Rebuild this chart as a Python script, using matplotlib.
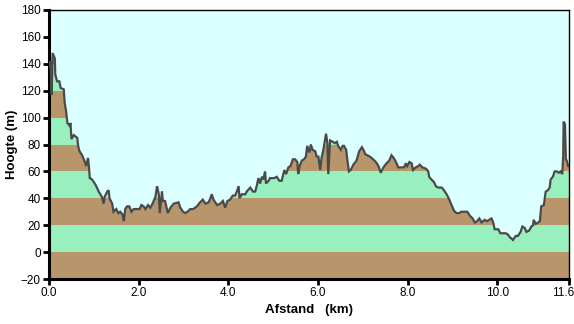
import matplotlib.pyplot as plt
import matplotlib.transforms as mtransforms
import numpy as np

#route profile: distance (km) and height (m)
afstand = [0.00, 0.03, 0.06, 0.08, 0.13, 0.14, 0.18, 0.23, 0.26, 0.33, 0.35, 0.38, 0.41, 0.46, 0.48,
           0.50, 0.55, 0.63, 0.65, 0.68, 0.74, 0.80, 0.83, 0.87, 0.89, 0.91, 0.96, 1.04, 1.11, 1.18,
           1.22, 1.24, 1.30, 1.33, 1.35, 1.41, 1.44, 1.50, 1.55, 1.59, 1.64, 1.67, 1.70, 1.74, 1.79,
           1.84, 1.89, 2.02, 2.06, 2.11, 2.15, 2.21, 2.26, 2.31, 2.36, 2.37, 2.41, 2.45, 2.47, 2.50,
           2.52, 2.54, 2.59, 2.65, 2.71, 2.78, 2.89, 2.93, 2.99, 3.04, 3.09, 3.15, 3.22, 3.30, 3.37,
           3.43, 3.49, 3.56, 3.60, 3.63, 3.67, 3.75, 3.82, 3.88, 3.93, 3.98, 4.04, 4.10, 4.15, 4.19,
           4.23, 4.25, 4.30, 4.38, 4.41, 4.49, 4.55, 4.60, 4.64, 4.67, 4.71, 4.75, 4.78, 4.82, 4.84,
           4.90, 4.93, 5.02, 5.08, 5.14, 5.19, 5.25, 5.29, 5.34, 5.39, 5.44, 5.49, 5.54, 5.56, 5.59,
           5.64, 5.69, 5.73, 5.76, 5.81, 5.84, 5.88, 5.94, 5.97, 6.01, 6.05, 6.08, 6.12, 6.16, 6.18,
           6.21, 6.23, 6.27, 6.33, 6.38, 6.42, 6.45, 6.51, 6.55, 6.58, 6.63, 6.65, 6.69, 6.73, 6.79,
           6.86, 6.92, 6.98, 7.03, 7.05, 7.10, 7.16, 7.23, 7.29, 7.35, 7.40, 7.46, 7.53, 7.59, 7.64,
           7.69, 7.74, 7.79, 7.92, 7.96, 7.99, 8.04, 8.09, 8.12, 8.18, 8.24, 8.27, 8.33, 8.41, 8.46,
           8.48, 8.53, 8.59, 8.63, 8.68, 8.76, 8.81, 8.87, 8.93, 8.98, 9.03, 9.09, 9.15, 9.20, 9.28,
           9.33, 9.39, 9.45, 9.50, 9.55, 9.60, 9.65, 9.72, 9.77, 9.82, 9.87, 9.91, 9.94, 10.02, 10.07,
           10.13, 10.19, 10.24, 10.28, 10.32, 10.35, 10.41, 10.46, 10.52, 10.56, 10.61, 10.65, 10.71, 10.76, 10.80,
           10.81, 10.86, 10.91, 10.95, 10.98, 11.04, 11.08, 11.13, 11.17, 11.19, 11.24, 11.28, 11.33, 11.37, 11.41,
           11.45, 11.47, 11.48, 11.51, 11.53, 11.55, 11.58, 11.60]
hoogte = [138, 142, 117, 148, 144, 132, 127, 127, 122, 121, 111, 105, 96, 94, 96,
          84, 87, 85, 79, 75, 72, 67, 64, 70, 64, 55, 54, 50, 45, 41,
          36, 41, 45, 46, 40, 36, 30, 32, 29, 30, 28, 23, 32, 34, 34,
          30, 32, 32, 35, 34, 32, 35, 33, 36, 40, 40, 49, 43, 29, 39,
          45, 38, 38, 29, 33, 36, 37, 33, 30, 29, 30, 32, 32, 34, 37,
          39, 36, 37, 40, 43, 39, 35, 36, 38, 33, 38, 39, 42, 42, 45,
          49, 40, 43, 43, 45, 48, 45, 45, 50, 55, 51, 56, 54, 60, 51,
          53, 55, 55, 56, 53, 53, 61, 58, 63, 64, 69, 69, 67, 58, 64,
          68, 69, 71, 79, 74, 80, 76, 75, 71, 71, 61, 70, 76, 84, 88,
          81, 58, 83, 82, 81, 82, 79, 76, 79, 79, 76, 70, 60, 61, 65,
          68, 75, 78, 75, 73, 72, 71, 69, 67, 64, 59, 63, 66, 68, 72,
          70, 67, 63, 63, 66, 64, 67, 66, 61, 63, 64, 65, 63, 62, 60,
          56, 54, 52, 49, 48, 48, 46, 43, 39, 35, 31, 29, 29, 30, 30,
          30, 27, 25, 22, 23, 25, 22, 24, 23, 24, 25, 22, 17, 17, 14,
          14, 14, 13, 11, 10, 9, 12, 12, 15, 19, 18, 15, 16, 19, 20,
          24, 21, 22, 23, 34, 35, 45, 46, 48, 54, 56, 60, 60, 59, 60,
          58, 71, 97, 95, 69, 68, 64, 64]

xticks = [0.0, 2.0, 4.0, 6.0, 8.0, 10.0, 11.6]
yticks = list(range(-20, 181, 20))

bruin = '#b8956a'
groen = '#99f0bf'
lucht = '#dcffff'

fig = plt.figure(figsize=(5.74, 3.24), dpi=100)
ax = fig.add_axes([49/574, 45/324, 520/574, 269/324])
ax.set_facecolor(lucht)

#height bands of 20 m, alternating brown / green
for i, lo in enumerate(range(-20, 180, 20)):
    ax.axhspan(lo, lo + 20, color=bruin if i % 2 == 0 else groen, lw=0, zorder=1)

#sky above the profile
x = np.array(afstand)
y = np.array(hoogte)
ax.fill_between(x, y, 180, color=lucht, lw=0, zorder=2)
ax.plot(x, y, color='#4a4a4a', lw=1.6, zorder=3, solid_joinstyle='miter')

ax.set_xlim(0, 11.6)
ax.set_ylim(-20, 180)
ax.set_xticks(xticks)
ax.set_xticklabels(['%.1f' % t for t in xticks])
ax.set_yticks(yticks)

for s in ['left', 'bottom']:
    ax.spines[s].set_linewidth(2.2)
for s in ['top', 'right']:
    ax.spines[s].set_linewidth(1.0)
ax.tick_params(direction='out', length=4, width=2, labelsize=8.5, pad=2)
for lab in ax.get_xticklabels() + ax.get_yticklabels():
    lab.set_family('Liberation Sans')

#keep the last distance label inside the figure
last = ax.get_xticklabels()[-1]
last.set_horizontalalignment('right')
last.set_transform(last.get_transform() + mtransforms.ScaledTranslation(5/100, 0, fig.dpi_scale_trans))

ax.set_xlabel('Afstand   (km)', fontsize=9.5, fontweight='bold', family='Liberation Sans', labelpad=3)
ax.set_ylabel('Hoogte (m)', fontsize=9.5, fontweight='bold', family='Liberation Sans', labelpad=2)

fig.savefig('out.png', dpi=100)
